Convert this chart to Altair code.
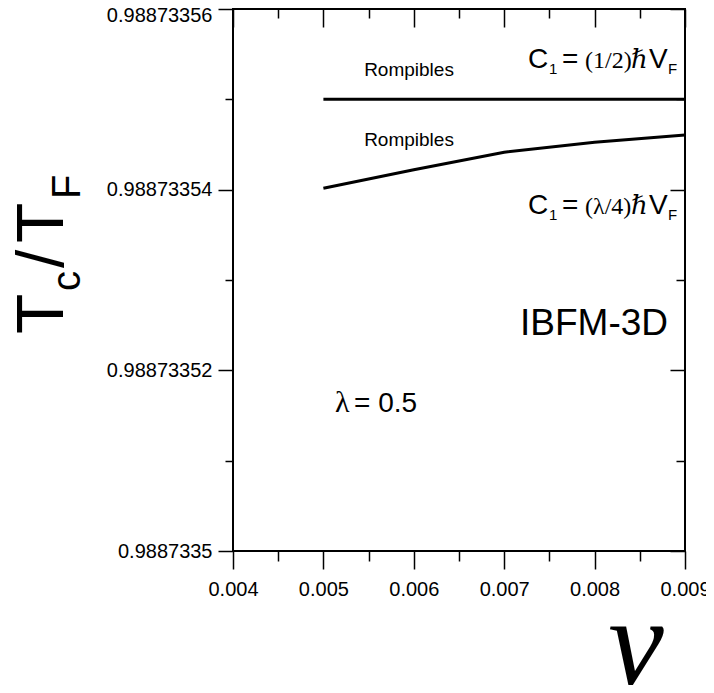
import altair as alt
import pandas as pd

# ---- data ----
NU = [0.005, 0.006, 0.007, 0.008, 0.009]
TC_HALF = [0.98873355, 0.98873355, 0.98873355, 0.98873355, 0.98873355]          # C1 = (1/2) hbar V_F
TC_LAMBDA = [0.98873354015, 0.9887335422, 0.98873354415, 0.98873354525, 0.98873354605]  # C1 = (lambda/4) hbar V_F

X_MAJOR = [0.004, 0.005, 0.006, 0.007, 0.008, 0.009]
X_MINOR = [0.0045, 0.0055, 0.0065, 0.0075, 0.0085]
Y_MAJOR = [0.9887335, 0.98873352, 0.98873354, 0.98873356]
Y_MINOR = [0.98873351, 0.98873353, 0.98873355]
X_DOMAIN = [0.004, 0.009]
Y_DOMAIN = [0.9887335, 0.98873356]

SANS = "Liberation Sans"
SERIF = "Liberation Serif, DejaVu Serif"

rows = []
for x, y in zip(NU, TC_HALF):
    rows.append({"nu": x, "tc": y, "s": "half"})
for x, y in zip(NU, TC_LAMBDA):
    rows.append({"nu": x, "tc": y, "s": "lambda"})
df = pd.DataFrame(rows)

xs = alt.Scale(domain=X_DOMAIN, nice=False, zero=False)
ys = alt.Scale(domain=Y_DOMAIN, nice=False, zero=False)

common = dict(domain=False, grid=False, title=None, tickColor="black",
              tickWidth=1.5, labelColor="black")


def ax(orient, values, size, offset=0, labels=False, fmt=None, pad=6, loff=None):
    kw = dict(common)
    kw.update(orient=orient, values=values, tickSize=size, labels=labels)
    if offset:
        kw["offset"] = offset
    if labels:
        kw.update(format=fmt, labelFont=SANS, labelFontSize=20,
                  labelPadding=pad, labelFlush=False, labelOverlap=False)
    if loff is not None:
        kw["labelOffset"] = loff
    return alt.Axis(**kw)


top_label_shift = {"condition": {"test": "datum.value > 0.988733559", "value": 6}, "value": 0}

lines = alt.Chart(df).mark_line(color="black", strokeWidth=3).encode(
    x=alt.X("nu:Q", scale=xs, axis=ax("bottom", X_MAJOR, 18, labels=True, fmt=".3f", pad=10)),
    y=alt.Y("tc:Q", scale=ys, axis=ax("left", Y_MAJOR, 15, labels=True, fmt=".8~f", pad=6,
                                       loff=top_label_shift)),
    detail="s:N",
)

ghost = alt.Chart(df).mark_point(opacity=0)
l_minor = ghost.encode(
    x=alt.X("nu:Q", scale=xs, axis=ax("bottom", X_MINOR, 10)),
    y=alt.Y("tc:Q", scale=ys, axis=ax("left", Y_MINOR, 8)),
)
l_inmaj = ghost.encode(
    x=alt.X("nu:Q", scale=xs, axis=ax("top", X_MAJOR, 18, offset=-18)),
    y=alt.Y("tc:Q", scale=ys, axis=ax("right", Y_MAJOR, 15, offset=-15)),
)
l_inmin = ghost.encode(
    x=alt.X("nu:Q", scale=xs, axis=ax("top", X_MINOR, 9, offset=-9)),
    y=alt.Y("tc:Q", scale=ys, axis=ax("right", Y_MINOR, 9, offset=-9)),
)

one = alt.Chart(pd.DataFrame({"k": [0]}))


def txt(text, x, y, size, font=SANS, align="left", angle=0, style="normal", baseline="alphabetic"):
    kw = dict(text=text, fontSize=size, font=font, align=align, baseline=baseline,
              color="black", fontStyle=style)
    if angle:
        kw["angle"] = angle
    return one.mark_text(**kw).encode(x=alt.value(x), y=alt.value(y))


def c1_label(frac, base):
    return [
        txt("C", 295, base, 28),
        txt("1", 316, base + 6, 15),
        txt("=", 329, base, 28),
        txt(frac, 352, base, 24, font=SERIF),
        txt("\u210f", 398, base, 26, font=SERIF, style="italic"),
        txt("V", 416, base, 28),
        txt("F", 435, base + 6, 15),
    ]


annos = [
    txt("Rompibles", 176, 67, 19, align="center"),
    txt("Rompibles", 176, 137, 19, align="center"),
    *c1_label("(1/2)", 59),
    *c1_label("(\u03bb/4)", 205),
    txt("IBFM-3D", 287, 326, 37),
    txt("\u03bb", 102, 403, 30, font=SERIF),
    txt("= 0.5", 121, 403, 28),
    # axis titles
    txt("\u03bd", 403, 675, 125, font=SERIF, align="center", style="italic"),
    txt("T", -170, 325, 66, angle=270),
    txt("c", -153, 282, 40, angle=270),
    txt("/", -170, 259, 66, angle=270),
    txt("T", -170, 234, 66, angle=270),
    txt("F", -153, 190, 40, angle=270),
]

chart = alt.layer(lines, l_minor, l_inmaj, l_inmin, *annos).resolve_axis(
    x="independent", y="independent"
).properties(
    width=452, height=542, autosize="none",
    padding={"left": 225, "top": 1, "right": 21, "bottom": 134},
).configure_view(stroke="black", strokeWidth=2)

chart.save("out.html", embed_options={"renderer": "svg", "actions": False})
